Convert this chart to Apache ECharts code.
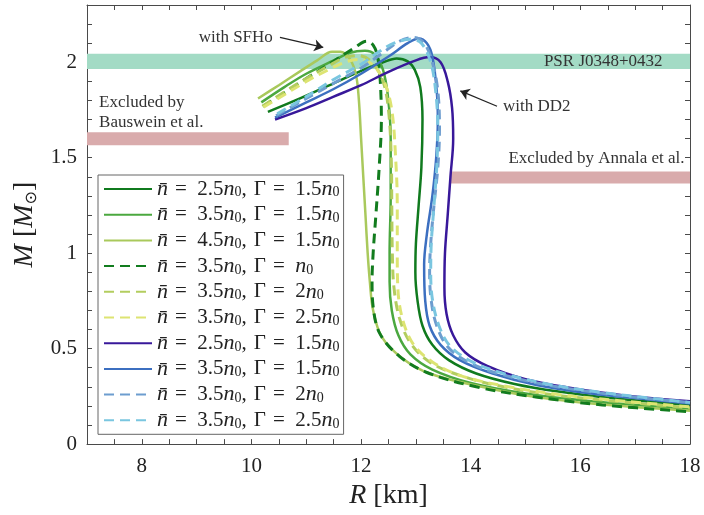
<!DOCTYPE html>
<html><head><meta charset="utf-8">
<script src="https://cdn.jsdelivr.net/npm/echarts@6/dist/echarts.min.js"></script>
<style>html,body{margin:0;padding:0;background:#fff}#c{width:704px;height:515px}</style>
</head><body><div id="c"></div>
<script>
// ---- axis ranges / tick labels ----
const xRange = [7, 18];
const yRange = [0, 2.3];
const xTickLabels = [8, 10, 12, 14, 16, 18];
const yTickLabels = [0, 0.5, 1, 1.5, 2];

// ---- legend content ----
const seriesIds = ['A','B','C','D','E','F','G','H','I','J'];
const nbarValues = ['2.5','3.5','4.5','3.5','3.5','3.5','2.5','3.5','3.5','3.5'];
const gammaValues = ['1.5','1.5','1.5','','2','2.5','1.5','1.5','2','2.5'];
const colors = ['#107a1e','#4ba83f','#a9c95c','#127c1e','#b3cd5f','#dde472','#38189a','#3c6fc0','#6d9dcf','#7ac6e0'];
const dashed = [false,false,false,true,true,true,false,false,true,true];

// ---- curves: radius R [km] and mass M [Msun] ----
const R_A = [10.30,10.8,11.5,12.0,12.4,12.65,12.85,12.98,13.08,13.12,13.1,13.05,13.0,12.99,13.03,13.12,13.3,13.6,14.1,14.8,15.6,16.6,18.0];
const M_A = [1.74,1.80,1.89,1.955,2.0,2.02,2.005,1.96,1.87,1.70,1.45,1.25,1.05,0.9,0.75,0.62,0.52,0.44,0.37,0.315,0.275,0.24,0.205];

const R_B = [10.18,10.6,11.0,11.5,11.8,12.07,12.25,12.4,12.49,12.54,12.54,12.52,12.52,12.56,12.68,12.9,13.3,14.0,15.0,16.2,18.0];
const M_B = [1.79,1.87,1.94,2.01,2.05,2.06,2.04,1.96,1.82,1.6,1.3,1.0,0.85,0.7,0.57,0.47,0.39,0.32,0.265,0.225,0.185];

const R_C = [10.12,10.5,10.9,11.2,11.47,11.62,11.8,11.91,11.96,12.0,12.04,12.08,12.12,12.16,12.22,12.38,12.75,13.25,14.2,15.1,16.3,18.0];
const M_C = [1.81,1.88,1.955,2.01,2.055,2.055,2.015,1.93,1.8,1.6,1.4,1.2,1.0,0.85,0.7,0.56,0.45,0.37,0.3,0.25,0.21,0.175];

const R_D = [10.21,10.6,11.0,11.5,11.9,12.1,12.22,12.3,12.35,12.37,12.33,12.27,12.22,12.2,12.22,12.34,12.7,13.2,14.1,15.1,16.4,18.0];
const M_D = [1.77,1.84,1.915,2.005,2.08,2.11,2.09,2.03,1.9,1.7,1.45,1.2,1.0,0.85,0.72,0.58,0.46,0.375,0.3,0.25,0.205,0.17];

const R_E = [10.2,10.6,11.0,11.4,11.7,11.95,12.2,12.4,12.5,12.55,12.56,12.57,12.6,12.7,12.9,13.25,13.8,14.6,15.6,16.8,18.0];
const M_E = [1.77,1.845,1.915,1.98,2.025,2.035,2.0,1.9,1.75,1.5,1.25,1.0,0.82,0.66,0.53,0.43,0.36,0.3,0.255,0.22,0.19];

const R_F = [10.22,10.6,11.0,11.4,11.7,11.95,12.2,12.42,12.56,12.63,12.66,12.66,12.67,12.76,12.96,13.3,13.8,14.6,15.6,16.8,18.0];
const M_F = [1.765,1.83,1.9,1.96,2.0,2.015,1.99,1.9,1.75,1.5,1.25,1.0,0.82,0.65,0.52,0.43,0.36,0.305,0.26,0.225,0.195];

const R_G = [10.43,11.0,11.5,12.0,12.5,13.0,13.25,13.45,13.58,13.66,13.68,13.63,13.58,13.53,13.52,13.56,13.68,13.9,14.3,15.0,15.8,16.8,18.0];
const M_G = [1.70,1.76,1.82,1.88,1.95,2.01,2.027,2.0,1.9,1.76,1.6,1.4,1.2,1.0,0.82,0.68,0.57,0.48,0.41,0.34,0.295,0.255,0.225];

const R_H = [10.43,11.0,11.5,12.0,12.5,12.85,13.05,13.2,13.3,13.38,13.4,13.37,13.3,13.2,13.15,13.17,13.25,13.45,13.8,14.4,15.2,16.2,17.2,18.0];
const M_H = [1.71,1.79,1.86,1.94,2.03,2.1,2.125,2.1,2.03,1.85,1.7,1.5,1.3,1.1,0.94,0.75,0.62,0.52,0.44,0.37,0.31,0.265,0.235,0.212];

const R_I = [10.45,11.0,11.5,12.0,12.4,12.7,12.95,13.15,13.3,13.4,13.43,13.4,13.33,13.27,13.25,13.28,13.38,13.58,13.95,14.5,15.3,16.3,17.2,18.0];
const M_I = [1.72,1.81,1.89,1.97,2.05,2.11,2.13,2.1,2.0,1.85,1.65,1.45,1.25,1.05,0.9,0.75,0.62,0.51,0.43,0.37,0.315,0.27,0.24,0.218];

const R_J = [10.47,11.0,11.5,12.0,12.3,12.6,12.9,13.1,13.27,13.36,13.4,13.38,13.33,13.28,13.27,13.3,13.42,13.62,14.0,14.6,15.4,16.4,17.3,18.0];
const M_J = [1.73,1.82,1.91,1.99,2.05,2.1,2.12,2.1,2.0,1.85,1.65,1.45,1.25,1.05,0.9,0.76,0.62,0.515,0.435,0.37,0.315,0.27,0.24,0.218];

// ---- shaded constraint bands ----
const psrR = [7, 18],   psrM = [1.965, 2.045];
const bausR = [7, 10.68], bausM = [1.565, 1.633];
const annR = [13.62, 18], annM = [1.365, 1.428];

// ---- annotations (data coordinates) ----
const sfhoArrow = [[10.52, 2.13], [11.31, 2.078]];
const dd2Arrow = [[14.48, 1.77], [13.81, 1.85]];

const curvesR = [R_A,R_B,R_C,R_D,R_E,R_F,R_G,R_H,R_I,R_J];
const curvesM = [M_A,M_B,M_C,M_D,M_E,M_F,M_G,M_H,M_I,M_J];

const serif = 'Liberation Serif';
const chart = echarts.init(document.getElementById('c'), null, {renderer: 'canvas'});

function zip(a, b) { return a.map((v, i) => [v, b[i]]); }
function legendText(i) {
  const g = gammaValues[i];
  return '{it|n\u0304}{r|\u2004=\u2002' + nbarValues[i] + '}{it|n}{sub|0}{r|,\u2004Γ\u2004=\u2002' + g + '}{it|n}{sub|0}';
}

const axisColor = '#4a4a4a';
const baseX = {type: 'value', min: xRange[0], max: xRange[1], interval: 0.5, gridIndex: 0,
  splitLine: {show: false}, axisLine: {show: true, onZero: false, lineStyle: {color: axisColor, width: 1}},
  axisTick: {show: true, inside: true, length: 5, lineStyle: {color: axisColor}}};
const baseY = {type: 'value', min: yRange[0], max: yRange[1], interval: 0.1, gridIndex: 0,
  splitLine: {show: false}, axisLine: {show: true, onZero: false, lineStyle: {color: axisColor, width: 1}},
  axisTick: {show: true, inside: true, length: 5, lineStyle: {color: axisColor}}};

const series = [{
  name: 'bands', type: 'line', data: [], z: 1, silent: true,
  markArea: {silent: true, data: [
    [{xAxis: psrR[0], yAxis: psrM[0], itemStyle: {color: '#a3dbc5'}}, {xAxis: psrR[1], yAxis: psrM[1]}],
    [{xAxis: bausR[0], yAxis: bausM[0], itemStyle: {color: '#d9abac'}}, {xAxis: bausR[1], yAxis: bausM[1]}],
    [{xAxis: annR[0], yAxis: annM[0], itemStyle: {color: '#d9abac'}}, {xAxis: annR[1], yAxis: annM[1]}]
  ]}
}, {
  name: 'arrows', type: 'lines', coordinateSystem: 'cartesian2d', z: 5, silent: true,
  symbol: ['none', 'arrow'], symbolSize: 9,
  lineStyle: {color: '#222', width: 1.2, opacity: 1},
  data: [{coords: sfhoArrow}, {coords: dd2Arrow}]
}];
seriesIds.forEach((id, i) => {
  series.push({
    name: id, type: 'line', data: zip(curvesR[i], curvesM[i]), showSymbol: false, symbol: 'none',
    smooth: 0.35, z: 3 + i, silent: true,
    lineStyle: {color: colors[i], width: dashed[i] ? 3 : 2.5, type: dashed[i] ? [10, 6] : 'solid'},
    itemStyle: {color: colors[i]}
  });
});

chart.setOption({
  animation: false,
  backgroundColor: '#fff',
  grid: {left: 87, right: 14, top: 5, bottom: 68, containLabel: false},
  xAxis: [
    Object.assign({}, baseX, {position: 'bottom',
      axisLabel: {show: true, margin: 12, color: '#222', fontFamily: serif, fontSize: 21,
        formatter: v => xTickLabels.indexOf(Math.round(v * 2) / 2) >= 0 ? String(v) : ''},
      name: '{it|R} [km]', nameLocation: 'middle', nameGap: 30,
      nameTextStyle: {color: '#222', fontFamily: serif, fontSize: 28,
        rich: {it: {fontStyle: 'italic', fontFamily: serif, fontSize: 28, color: '#222'}}}}),
    Object.assign({}, baseX, {position: 'top', axisLabel: {show: false}})
  ],
  yAxis: [
    Object.assign({}, baseY, {position: 'left',
      axisLabel: {show: true, margin: 10, color: '#222', fontFamily: serif, fontSize: 21,
        formatter: v => { const t = Math.round(v * 10) / 10; return yTickLabels.indexOf(t) >= 0 ? String(t) : ''; }},
      name: '{it|M} [{it|M}{sub|⊙}]', nameLocation: 'middle', nameGap: 45, nameRotate: 90,
      nameTextStyle: {color: '#222', fontFamily: serif, fontSize: 28,
        rich: {it: {fontStyle: 'italic', fontFamily: serif, fontSize: 28, color: '#222'},
               sub: {fontFamily: 'DejaVu Sans', fontSize: 16, color: '#222', verticalAlign: 'bottom', padding: [14, 0, 0, 0]}}}}),
    Object.assign({}, baseY, {position: 'right', axisLabel: {show: false}})
  ],
  legend: {
    show: true, orient: 'vertical', left: 98, top: 175,
    data: seriesIds, itemWidth: 48, itemHeight: 14, itemGap: 3.7,
    padding: [3, 4, 3, 5], borderColor: '#666', borderWidth: 1, backgroundColor: '#fff',
    selectedMode: false,
    itemStyle: {opacity: 0, borderWidth: 0},
    formatter: name => legendText(seriesIds.indexOf(name)),
    textStyle: {fontFamily: serif, fontSize: 21, color: '#222', lineHeight: 21.5,
      rich: {
        it: {fontFamily: serif, fontStyle: 'italic', fontSize: 22, color: '#222', lineHeight: 21.5},
        r: {fontFamily: serif, fontSize: 21, color: '#222', lineHeight: 21.5},
        sub: {fontFamily: serif, fontSize: 14, color: '#222', verticalAlign: 'bottom', lineHeight: 6}
      }}
  },
  series: series
});

// annotation texts placed through the grid's coordinate conversion
const textItems = [
  {pos: [10.39, 2.13], text: 'with SFHo', align: 'right'},
  {pos: [14.59, 1.766], text: 'with DD2', align: 'left'},
  {pos: [17.5, 2.005], text: 'PSR J0348+0432', align: 'right'},
  {pos: [17.9, 1.494], text: 'Excluded by Annala et al.', align: 'right'},
  {pos: [7.22, 1.79], text: 'Excluded by', align: 'left'},
  {pos: [7.22, 1.686], text: 'Bauswein et al.', align: 'left'}
];
const graphics = textItems.map(t => {
  const p = chart.convertToPixel({gridIndex: 0}, t.pos);
  return {type: 'text', x: p[0], y: p[1], z: 20, silent: true,
    style: {text: t.text, fill: '#333', font: '17px "Liberation Serif"', textAlign: t.align, textVerticalAlign: 'middle'}};
});
chart.setOption({graphic: graphics});
</script>
</body></html>
